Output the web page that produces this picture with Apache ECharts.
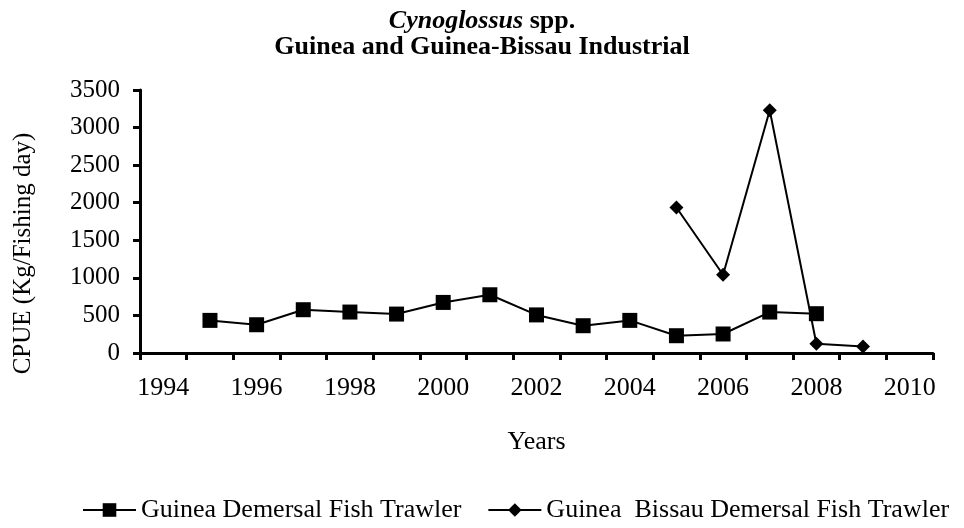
<!DOCTYPE html>
<html>
<head>
<meta charset="utf-8">
<script src="https://cdn.jsdelivr.net/npm/echarts@6/dist/echarts.min.js"></script>
<style>
  html, body { margin: 0; padding: 0; background: #fff; }
  #chart { width: 964px; height: 528px; }
</style>
</head>
<body>
<div id="chart"></div>
<script>
// years on the category axis
var years = ["1994", "1995", "1996", "1997", "1998", "1999", "2000", "2001",
             "2002", "2003", "2004", "2005", "2006", "2007", "2008", "2009", "2010"];

// CPUE (kg / fishing day), null where no data
var guinea = [null, 434, 376, 576, 545, 518, 673, 775,
              507, 363, 434, 230, 253, 545, 523, null, null];
var guineaBissau = [null, null, null, null, null, null, null, null,
                    null, null, null, 1937, 1041, 3230, 124, 88, null];

var yTicks = { min: 0, max: 3500, step: 500 };

var serif = "Liberation Serif";
var chart = echarts.init(document.getElementById("chart"));

chart.setOption({
  backgroundColor: "#fff",
  animation: false,
  textStyle: { fontFamily: serif, color: "#000" },
  title: {
    left: "center",
    top: 3,
    text: "{i|Cynoglossus}{b| spp.}\n{b|Guinea and Guinea-Bissau Industrial}",
    textStyle: {
      rich: {
        i: { fontFamily: serif, fontSize: 26, fontWeight: "bold", fontStyle: "italic", color: "#000", lineHeight: 26 },
        b: { fontFamily: serif, fontSize: 26, fontWeight: "bold", color: "#000", lineHeight: 26 }
      }
    }
  },
  grid: { left: 140, right: 31, top: 90, bottom: 175 },
  legend: {
    bottom: 0,
    left: 77,
    itemWidth: 53,
    itemHeight: 17,
    itemGap: 26,
    textStyle: { fontFamily: serif, fontSize: 26, color: "#000" },
    data: ["Guinea Demersal Fish Trawler", "Guinea  Bissau Demersal Fish Trawler"]
  },
  xAxis: {
    type: "category",
    data: years,
    boundaryGap: true,
    name: "Years",
    nameLocation: "middle",
    nameGap: 76,
    nameTextStyle: { fontFamily: serif, fontSize: 26, color: "#000" },
    axisLine: { show: true, lineStyle: { color: "#000", width: 3 } },
    axisTick: { show: true, interval: 0, length: 7, lineStyle: { color: "#000", width: 3 } },
    axisLabel: { interval: 1, margin: 22, fontFamily: serif, fontSize: 26, color: "#000" },
    splitLine: { show: false }
  },
  yAxis: {
    type: "value",
    min: yTicks.min,
    max: yTicks.max,
    interval: yTicks.step,
    name: "CPUE (Kg/Fishing day)",
    nameLocation: "middle",
    nameGap: 104,
    nameTextStyle: { fontFamily: serif, fontSize: 25, color: "#000", padding: [0, 64, 0, 0] },
    axisLine: { show: true, lineStyle: { color: "#000", width: 3 } },
    axisTick: { show: true, length: 7, lineStyle: { color: "#000", width: 3 } },
    axisLabel: { margin: 20, fontFamily: serif, fontSize: 25, color: "#000",
                 formatter: function (v) { return String(v); } },
    splitLine: { show: false }
  },
  series: [
    {
      name: "Guinea Demersal Fish Trawler",
      type: "line",
      data: guinea,
      symbol: "rect",
      symbolSize: 15,
      lineStyle: { color: "#000", width: 2 },
      itemStyle: { color: "#000" }
    },
    {
      name: "Guinea  Bissau Demersal Fish Trawler",
      type: "line",
      data: guineaBissau,
      symbol: "diamond",
      symbolSize: 14,
      lineStyle: { color: "#000", width: 2 },
      itemStyle: { color: "#000" }
    }
  ]
});
</script>
</body>
</html>
